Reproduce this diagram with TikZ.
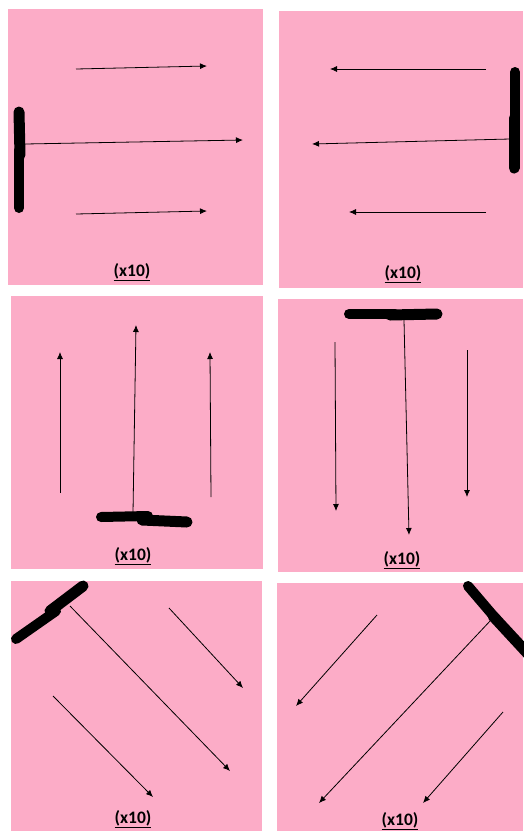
\documentclass[tikz,border=0pt]{standalone}
\usepackage{fontspec}
\setmainfont{Carlito}
\usepackage{xcolor}
\usetikzlibrary{arrows.meta}
\definecolor{panelpink}{RGB}{252,172,199}

\begin{document}
\begin{tikzpicture}[x=1pt, y=-1pt,
        panel/.style={fill=panelpink, draw=none},
        ray/.style={line width=0.8pt, -{Latex[length=7pt, width=6pt]}},
        knife/.style={line width=10pt, line cap=round},
        tag/.style={font=\fontsize{17.5}{19}\selectfont\bfseries, text=black, inner sep=0pt}]
        \useasboundingbox (0,0) rectangle (523,831);

        % Backgrounds of the six panels
        \fill[panel] (8,9) rectangle (263,285);
        \fill[panel] (279,11) rectangle (523,288);
        \fill[panel] (11,296) rectangle (263,569);
        \fill[panel] (278,299) rectangle (523,572);
        \fill[panel] (11,581) rectangle (262,831);
        \fill[panel] (277,583) rectangle (523,831);

        % First row, left: bar on the left, rays to the right
        \draw[knife, line width=11pt] (19,112) -- (20,155);
        \draw[knife] (19,150) -- (19,208);
        \draw[ray] (25,144) -- (243,140);
        \draw[ray] (76,69) -- (207,66);
        \draw[ray] (76,214) -- (207,211);
        \node[tag] (tag1) at (132,272) {\underline{(x10)}};

        % First row, right: bar on the right, rays to the left
        \draw[knife] (515,72) -- (515,122);
        \draw[knife, line width=11pt] (514,118) -- (514,168);
        \draw[ray] (510,139) -- (312,144);
        \draw[ray] (486,69) -- (330,69);
        \draw[ray] (486,212) -- (349,212);
        \node[tag] (tag2) at (403,274) {\underline{(x10)}};

        % Second row, left: bar at the bottom, rays upwards
        \draw[knife] (101,517) -- (148,516);
        \draw[knife, line width=11pt] (142,520) -- (187,522);
        \draw[ray] (133,513) -- (136,325);
        \draw[ray] (60,493) -- (60,352);
        \draw[ray] (211,497) -- (210,352);
        \node[tag] (tag3) at (133,556) {\underline{(x10)}};

        % Second row, right: bar at the top, rays downwards
        \draw[knife] (349,314) -- (395,314);
        \draw[knife, line width=11pt] (390,315) -- (437,314);
        \draw[ray] (404,320) -- (409,535);
        \draw[ray] (335,342) -- (336,511);
        \draw[ray] (467,350) -- (467,497);
        \node[tag] (tag4) at (402,560) {\underline{(x10)}};

        % Third row, left: slanted bar top left, rays down to the right
        \draw[knife] (16,639) -- (56,611);
        \draw[knife, line width=11pt] (50,611) -- (83,586);
        \draw[ray] (70,606) -- (230,771);
        \draw[ray] (169,608) -- (243,688);
        \draw[ray] (53,696) -- (153,797);
        \node[tag] (tag5) at (133,819) {\underline{(x10)}};

        % Third row, right: slanted bar top right, rays down to the left
        \draw[knife] (468,586) -- (497,620);
        \draw[knife, line width=11pt] (493,616) -- (530,656);
        \draw[ray] (491,620) -- (319,803);
        \draw[ray] (377,615) -- (296,706);
        \draw[ray] (503,712) -- (423,803);
        \node[tag] (tag6) at (400,821) {\underline{(x10)}};
    \end{tikzpicture}
\end{document}
